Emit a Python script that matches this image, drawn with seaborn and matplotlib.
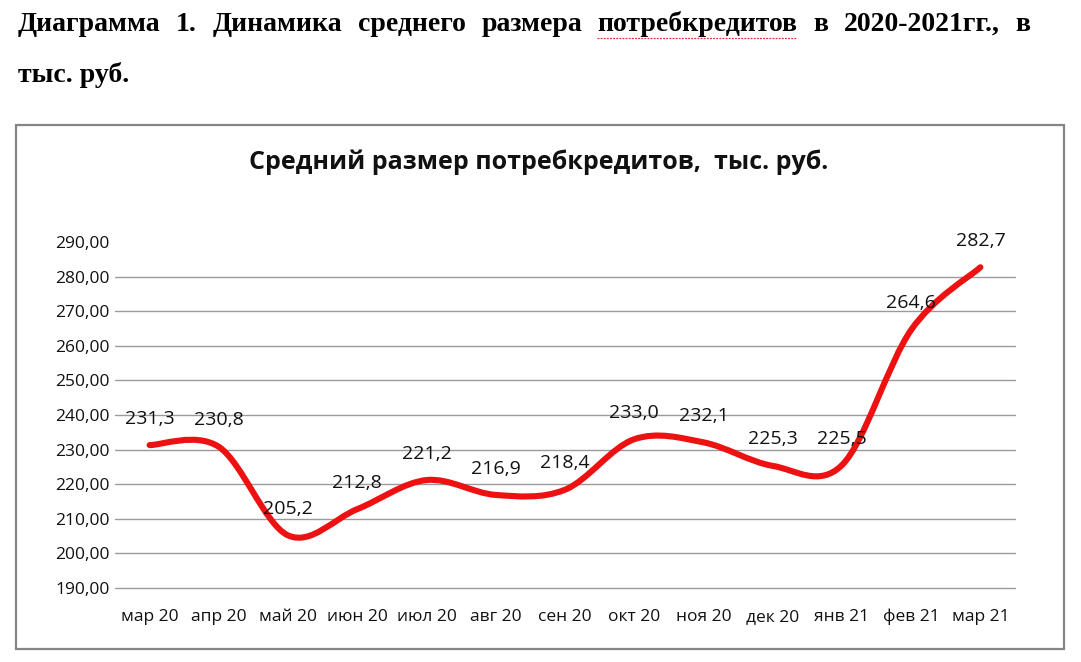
import numpy as np
import pandas as pd
import seaborn as sns
import matplotlib
matplotlib.use("Agg")
import matplotlib.pyplot as plt
from matplotlib.path import Path
from matplotlib.patches import PathPatch, Rectangle
from matplotlib.lines import Line2D
from matplotlib.ticker import FuncFormatter

# данные с диаграммы
months = ["мар 20", "апр 20", "май 20", "июн 20", "июл 20", "авг 20", "сен 20",
          "окт 20", "ноя 20", "дек 20", "янв 21", "фев 21", "мар 21"]
values = [231.3, 230.8, 205.2, 212.8, 221.2, 216.9, 218.4,
          233.0, 232.1, 225.3, 225.5, 264.6, 282.7]
yticks = [190, 200, 210, 220, 230, 240, 250, 260, 270, 280, 290]

header1 = "Диаграмма 1. Динамика среднего размера потребкредитов в 2020-2021гг., в"
header2 = "тыс. руб."
chart_title = "Средний размер потребкредитов,  тыс. руб."

sns.set_style("white")
plt.rcParams["font.family"] = ["Open Sans", "DejaVu Sans"]

W, H = 1081, 662
fig = plt.figure(figsize=(W / 100, H / 100), dpi=100)
ax = fig.add_axes([115 / W, 1 - 588 / H, (1015 - 115) / W, (588 - 242) / H])

df = pd.DataFrame({"month": months, "value": values})
sns.lineplot(data=df, x="month", y="value", ax=ax, linewidth=0)

# сглаженная линия как в Excel (кривые Безье через точки)
n = len(values)
pts = np.column_stack([np.arange(n), values])
verts = [tuple(pts[0])]
codes = [Path.MOVETO]
for i in range(n - 1):
    p_prev = pts[max(i - 1, 0)]
    p0 = pts[i]
    p1 = pts[i + 1]
    p_next = pts[min(i + 2, n - 1)]
    c1 = p0 + (p1 - p_prev) / 6
    c2 = p1 - (p_next - p0) / 6
    verts += [tuple(c1), tuple(c2), tuple(p1)]
    codes += [Path.CURVE4] * 3
patch = PathPatch(Path(verts, codes), facecolor="none", edgecolor="#EE1111",
                  linewidth=4.4, capstyle="round", joinstyle="round", zorder=3)
ax.add_patch(patch)

for i, v in enumerate(values):
    ax.annotate(f"{v:.1f}".replace(".", ","), (i, v), xytext=(0, 19),
                textcoords="offset points", ha="center", va="center",
                fontsize=14, color="#111111", zorder=4)

ax.set_xlim(-0.5, n - 0.5)
ax.set_ylim(190, 290)
ax.set_yticks(yticks)
ax.yaxis.set_major_formatter(FuncFormatter(lambda v, p: f"{v:.2f}".replace(".", ",")))
ax.grid(axis="y", color="#9A9A9A", linewidth=1.0)
for gl in ax.yaxis.get_gridlines():
    gl.set_clip_on(False)
ax.yaxis.get_gridlines()[-1].set_visible(False)
for s in ax.spines.values():
    s.set_visible(False)
ax.tick_params(axis="y", length=0, pad=4, labelsize=12.5, labelcolor="#111111")
ax.tick_params(axis="x", length=0, pad=15, labelsize=12.5, labelcolor="#111111")
ax.set_xlabel("")
ax.set_ylabel("")

# рамка диаграммы
fig.add_artist(Rectangle((16 / W, 1 - 649 / H), (1064 - 16) / W, (649 - 124.5) / H,
                         transform=fig.transFigure, facecolor="none",
                         edgecolor="#858585", linewidth=1.6))

fig.text(539 / W, 1 - 162 / H, chart_title, ha="center", va="center",
         fontsize=18, fontweight="bold", color="#111111")

# заголовок документа, выровненный по ширине
fig.canvas.draw()
r = fig.canvas.get_renderer()
serif = ["Liberation Serif", "DejaVu Serif"]
words = header1.split(" ")
texts = []
widths = []
for w in words:
    t = fig.text(0, 1 - 31 / H, w, fontsize=20, fontweight="bold", family=serif,
                 va="baseline", ha="left", color="black")
    texts.append(t)
    widths.append(t.get_window_extent(r).width)
x_left, x_right = 18, 1030
gap = (x_right - x_left - sum(widths)) / (len(words) - 1)
x = x_left
for t, wd, w in zip(texts, widths, words):
    t.set_x(x / W)
    if w == "потребкредитов":
        fig.add_artist(Line2D([x / W, (x + wd) / W], [1 - 38 / H, 1 - 38 / H],
                              transform=fig.transFigure, color="#E03030",
                              linewidth=0.9, linestyle=(0, (1.5, 1.0))))
    x += wd + gap
fig.text(x_left / W, 1 - 82 / H, header2, fontsize=20, fontweight="bold",
         family=serif, va="baseline", ha="left", color="black")

plt.savefig("out.png", dpi=100)
